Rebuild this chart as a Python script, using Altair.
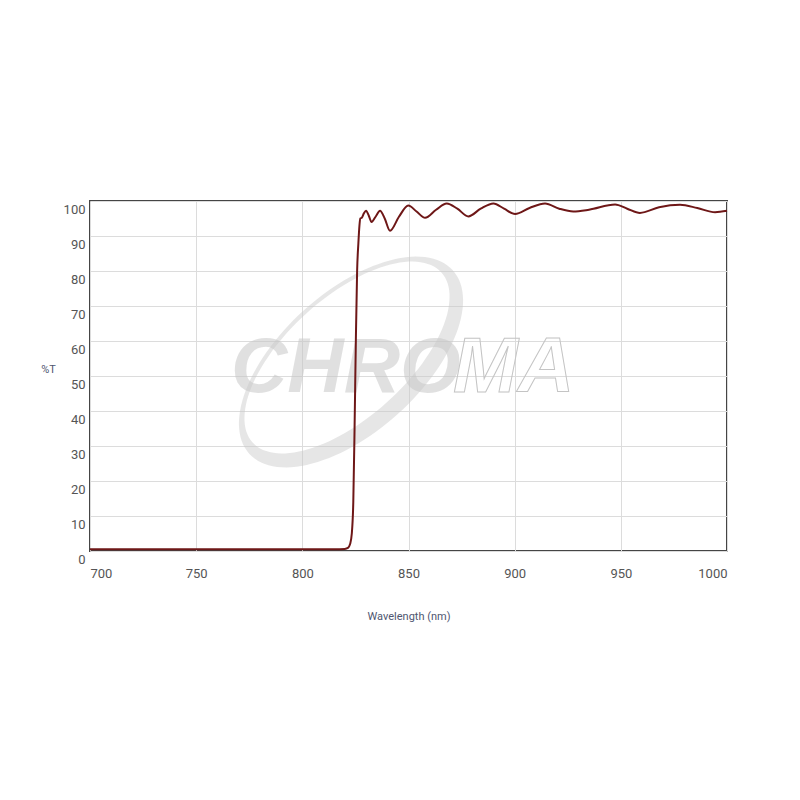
import altair as alt
import numpy as np
import pandas as pd

# ---- data ----
wavelength = [700, 720, 740, 760, 780, 800, 815, 820, 821.5, 822.5, 823.3, 824, 824.6,
              825.2, 825.8, 826.4, 826.9, 827.3, 828.0, 829.0, 830.0, 831.3, 832.6, 834.5,
              836.6, 838.8, 841.3, 845.5, 849.9, 853.8, 857.8, 863, 868, 873, 878.2, 884,
              890, 895, 900.2, 907, 914.3, 921, 927.6, 935, 947.3, 953, 959, 968, 977.9,
              986, 994.4, 1000]
transmission = [0.5, 0.5, 0.5, 0.5, 0.5, 0.5, 0.5, 0.6, 0.9, 2.0, 5.0, 14.0, 35.0,
                60.0, 80.0, 88.0, 93.0, 95.0, 95.2, 96.5, 97.2, 95.8, 94.0, 95.5,
                97.2, 95.0, 91.5, 95.5, 98.7, 97.0, 95.2, 97.5, 99.3, 97.8, 95.6, 97.8,
                99.3, 97.8, 96.3, 98.0, 99.3, 97.8, 97.0, 97.5, 99.0, 97.8, 96.6, 98.2, 98.9,
                98.0, 96.8, 97.2]
x_ticks = [700, 750, 800, 850, 900, 950, 1000]
y_ticks = [0, 10, 20, 30, 40, 50, 60, 70, 80, 90, 100]

df = pd.DataFrame({"wl": wavelength, "t": transmission})
one = pd.DataFrame({"k": [0]})

W, H = 637, 350

# ---- watermark ring shape (decorative path, pixel units with size=4) ----
def ellipse_pts(cx, cy, a, b, theta_deg, n=120, reverse=False):
    th = np.radians(theta_deg)
    t = np.linspace(0, 2 * np.pi, n, endpoint=False)
    if reverse:
        t = t[::-1]
    ex = a * np.cos(t)
    ey = b * np.sin(t)
    x = cx + ex * np.cos(th) + ey * np.sin(th)
    y = cy - ex * np.sin(th) + ey * np.cos(th)
    return x, y

ox, oy = ellipse_pts(0, 0, 137, 70, 42)
ix, iy = ellipse_pts(-4.0, -4.5, 127, 60, 42, reverse=True)
path = "M" + " L".join(f"{a:.1f},{b:.1f}" for a, b in zip(ox, oy)) + " Z "
path += "M" + " L".join(f"{a:.1f},{b:.1f}" for a, b in zip(ix, iy)) + " Z"

ring = alt.Chart(one).mark_point(
    shape=path, size=4, filled=True, fill="#c8c8c8", opacity=0.45, strokeWidth=0
).encode(x=alt.value(261), y=alt.value(161))

chro = alt.Chart(one).mark_text(
    text="CHRO", font="Liberation Sans, Arial", fontWeight="bold",
    fontStyle="italic", fontSize=78,
    fill="#c8c8c8", opacity=0.55, align="left", baseline="alphabetic"
).encode(x=alt.value(141), y=alt.value(191))

ma = alt.Chart(one).mark_text(
    text="MA", font="Liberation Sans, Arial", fontWeight="bold", fontStyle="italic", fontSize=78,
    fillOpacity=0, stroke="#c4c4c4", strokeWidth=1, align="left", baseline="alphabetic"
).encode(x=alt.value(363), y=alt.value(191))

line = alt.Chart(df).mark_line(
    color="#6e1717", strokeWidth=2, interpolate="monotone"
).encode(
    x=alt.X("wl:Q", scale=alt.Scale(domain=[700, 1000], nice=False, zero=False),
            axis=alt.Axis(values=x_ticks, title="Wavelength (nm)", ticks=False, domain=False,
                          labelPadding=16, titlePadding=30, format="d")),
    y=alt.Y("t:Q", scale=alt.Scale(domain=[0, 100], nice=False),
            axis=alt.Axis(values=y_ticks, title="%T", ticks=False, domain=False,
                          labelPadding=5, labelOffset=8, labelBaseline="middle",
                          titleAngle=0, titleX=-42, titleY=168, titleAlign="center",
                          titleBaseline="middle")),
)

chart = alt.layer(ring, chro, ma, line).properties(
    width=W, height=H,
    background="white",
    autosize=alt.AutoSizeParams(type="none"),
    padding={"left": 82, "top": 193, "right": 65, "bottom": 200},
).configure_view(
    stroke="#454545", strokeWidth=2
).configure_axis(
    grid=True, gridColor="#dcdcdc", gridWidth=1,
    labelFont="Roboto", labelFontSize=13, labelColor="#555555",
    titleFont="Roboto", titleFontSize=11, titleColor="#4f5670", titleFontWeight="normal",
)

chart.save("out.html", embed_options={"renderer": "svg", "actions": False})
